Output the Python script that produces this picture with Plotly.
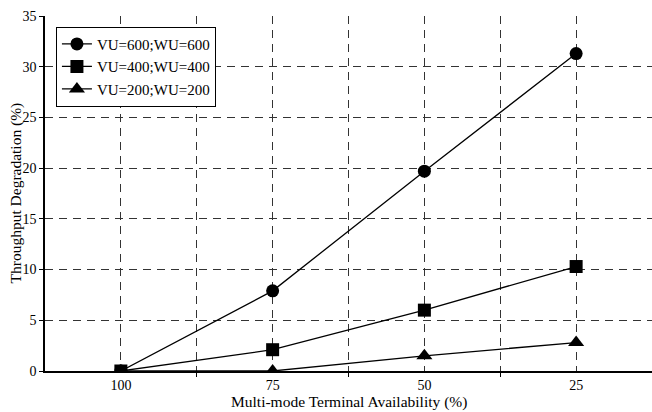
import plotly.graph_objects as go

categories = ["100", "75", "50", "25"]
series_names = ["VU=600;WU=600", "VU=400;WU=400", "VU=200;WU=200"]
vu600 = [0.0, 7.9, 19.7, 31.3]
vu400 = [0.0, 2.1, 6.0, 10.3]
vu200 = [0.0, 0.0, 1.5, 2.8]
y_ticks = [0, 5, 10, 15, 20, 25, 30, 35]

symbols = ["circle", "square", "triangle-up"]
xs = list(range(len(categories)))
font = "Liberation Serif, Times New Roman, serif"

fig = go.Figure()
for name, vals, sym in zip(series_names, [vu600, vu400, vu200], symbols):
    fig.add_trace(go.Scatter(
        x=xs, y=vals, name=name, mode="lines+markers",
        line=dict(color="black", width=1.3),
        marker=dict(symbol=sym, size=13 if sym != "triangle-up" else 14, color="black"),
    ))

fig.update_layout(
    width=652, height=412,
    margin=dict(l=45, r=0, t=16, b=41),
    paper_bgcolor="white", plot_bgcolor="white",
    font=dict(family=font, size=14, color="black"),
    showlegend=True,
    legend=dict(
        x=0.018, y=0.97, xanchor="left", yanchor="top",
        bordercolor="black", borderwidth=1, bgcolor="white",
        font=dict(family=font, size=15, color="black"),
        tracegroupgap=0, itemwidth=30,
    ),
    xaxis=dict(
        range=[-0.5, 3.5], tickmode="array", tickvals=xs, ticktext=categories,
        showgrid=True, gridcolor="#333", griddash="8px,6px", gridwidth=1,
        showline=True, linecolor="black", linewidth=2,
        ticks="", zeroline=False,
        tickfont=dict(family=font, size=14, color="black"),
        minor=dict(tickvals=[0.5, 1.5, 2.5], showgrid=True, gridcolor="#333",
                   griddash="8px,6px", gridwidth=1, ticks="outside", ticklen=4,
                   tickcolor="black"),
    ),
    yaxis=dict(
        range=[0, 35], tickmode="array", tickvals=y_ticks,
        showgrid=True, gridcolor="#333", griddash="8px,6px", gridwidth=1,
        showline=True, linecolor="black", linewidth=1.5,
        ticks="outside", ticklen=4, tickcolor="black",
        zeroline=False,
        tickfont=dict(family=font, size=14, color="black"),
    ),
    annotations=[
        dict(text="Throughput Degradation (%)", xref="paper", yref="paper",
             x=0, y=0.5, xanchor="center", yanchor="middle", xshift=-30,
             textangle=-90, showarrow=False,
             font=dict(family=font, size=15.5, color="black")),
        dict(text="Multi-mode Terminal Availability (%)", xref="paper", yref="paper",
             x=0.5, y=0, yshift=-31, xanchor="center", yanchor="middle",
             showarrow=False, font=dict(family=font, size=15.5, color="black")),
    ],
)

fig.write_html("out.html",
               config={"displayModeBar": False},
               post_script="document.body.style.margin='0';document.body.style.overflow='hidden';")
